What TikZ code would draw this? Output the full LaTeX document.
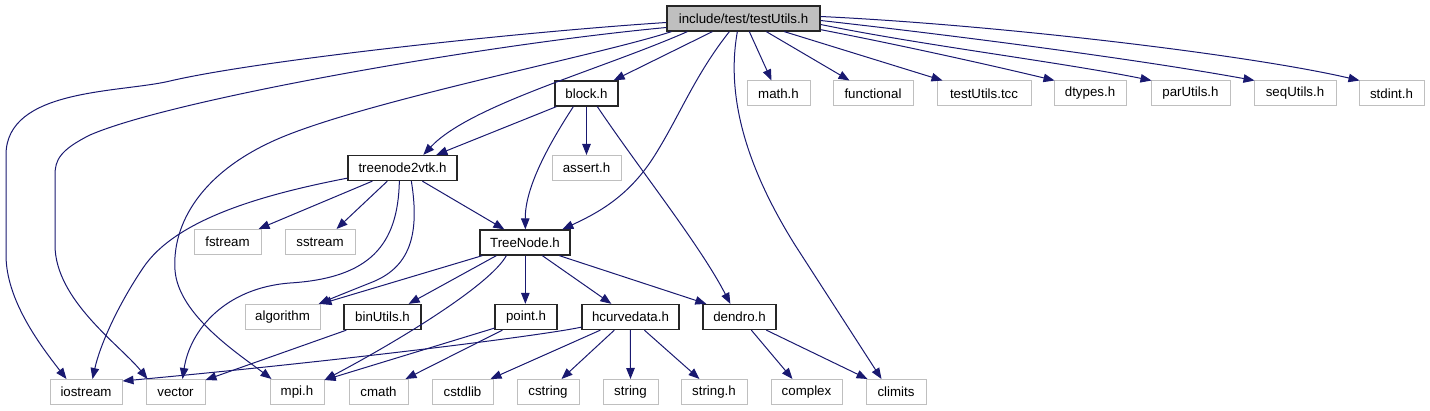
\documentclass[tikz,border=0pt]{standalone}
\usepackage{fontspec}
\setmainfont{Liberation Sans}
\usetikzlibrary{arrows.meta,calc}
\definecolor{edgeblue}{HTML}{191970}
\definecolor{sysgray}{HTML}{BFBFBF}
\definecolor{topfill}{HTML}{BFBFBF}
\tikzset{
  box/.style={rectangle, inner sep=0pt, minimum height=25pt, font=\fontsize{13.3}{16}\selectfont},
  sys/.style={box, draw=sysgray, line width=1pt},
  doc/.style={box, draw=black!85, line width=1.3pt},
  edge/.style={draw=edgeblue, line width=1pt, -{Triangle[length=11pt,width=8.5pt]}, fill=none},
}
\begin{document}
\begin{tikzpicture}[x=1pt,y=-1pt]
\useasboundingbox (0,0) rectangle (1430,411);
% top row
\node[doc, fill=topfill, minimum width=153pt] (top) at (743.5,18.5) {include/test/testUtils.h};
% row 2
\node[doc, minimum width=63pt] (block) at (586.5,93.5) {block.h};
\node[sys, minimum width=63pt] (math) at (778.5,93.5) {math.h};
\node[sys, minimum width=80pt] (functional) at (873,93.5) {functional};
\node[sys, minimum width=94pt] (tcc) at (984,93.5) {testUtils.tcc};
\node[sys, minimum width=72pt] (dtypes) at (1090,93.5) {dtypes.h};
\node[sys, minimum width=79pt] (parutils) at (1190.5,93.5) {parUtils.h};
\node[sys, minimum width=82pt] (sequtils) at (1295,93.5) {seqUtils.h};
\node[sys, minimum width=65pt] (stdint) at (1391.5,93.5) {stdint.h};
% row 3
\node[doc, minimum width=109pt] (tv) at (402.5,168) {treenode2vtk.h};
\node[sys, minimum width=69pt] (assert) at (586.5,168) {assert.h};
% row 4
\node[sys, minimum width=67pt] (fstream) at (227.5,242) {fstream};
\node[sys, minimum width=70pt] (sstream) at (320,242) {sstream};
\node[doc, minimum width=90pt] (treenode) at (525,242.5) {TreeNode.h};
% row 5
\node[sys, minimum width=75pt] (algorithm) at (282.5,317) {algorithm};
\node[doc, minimum width=77pt] (binutils) at (382.5,317) {binUtils.h};
\node[doc, minimum width=62pt] (point) at (526,317) {point.h};
\node[doc, minimum width=97pt] (hcurve) at (630.5,317) {hcurvedata.h};
\node[doc, minimum width=73pt] (dendro) at (739.5,317) {dendro.h};
% row 6
\node[sys, minimum width=72pt] (iostream) at (86,392) {iostream};
\node[sys, minimum width=59pt] (vector) at (175.5,392) {vector};
\node[sys, minimum width=54pt] (mpi) at (297,392) {mpi.h};
\node[sys, minimum width=59pt] (cmath) at (378.5,392) {cmath};
\node[sys, minimum width=61pt] (cstdlib) at (462.5,392) {cstdlib};
\node[sys, minimum width=62pt] (cstring) at (548,392) {cstring};
\node[sys, minimum width=55pt] (string) at (630.5,392) {string};
\node[sys, minimum width=66pt] (stringh) at (714,392) {string.h};
\node[sys, minimum width=71pt] (complex) at (806.5,392) {complex};
\node[sys, minimum width=60pt] (climits) at (896,392) {climits};

% edges from testUtils.h
\draw[edge] ($(top.west)+(0,4)$) .. controls (520,32) and (260,60) .. (170,81)
   .. controls (120,93) and (6,88) .. (6,155) -- (6,255)
   .. controls (6,300) and (40,345) .. ($(iostream.north west)+(17,0)$);
\draw[edge] ($(top.west)+(0,9)$) .. controls (480,45) and (170,100) .. (90,135)
   .. controls (60,150) and (55,160) .. (55,175) -- (55,245)
   .. controls (55,300) and (120,345) .. ($(vector.north west)+(2,0)$);
\draw[edge] ($(top.south west)+(5,0)$) .. controls (600,55) and (370,100) .. (280,138)
   .. controls (200,172) and (172,225) .. (175,270)
   .. controls (178,315) and (240,355) .. ($(mpi.north west)+(2,0)$);
\draw[edge] ($(top.south west)+(21,0)$) .. controls (600,70) and (470,105) .. ($(tv.north west)+(76,0)$);
\draw[edge] ($(top.south west)+(46,0)$) -- ($(block.north east)+(-5,0)$);
\draw[edge] ($(top.south west)+(63,0)$) .. controls (695,75) and (680,115) .. (655,155)
   .. controls (630,195) and (600,212) .. ($(treenode.north west)+(83,0)$);
\draw[edge] ($(top.south west)+(71,0)$) .. controls (726,95) and (745,165) .. (795,245)
   -- ($(climits.north west)+(16,0)$);
\draw[edge] ($(top.south west)+(83,0)$) -- ($(math.north west)+(25,0)$);
\draw[edge] ($(top.south west)+(100,0)$) -- ($(functional.north west)+(17,0)$);
\draw[edge] ($(top.south west)+(118,0)$) -- ($(tcc.north west)+(6,0)$);
\draw[edge] ($(top.south east)+(0,-2)$) .. controls (900,45) and (990,65) .. ($(dtypes.north west)+(1,0)$);
\draw[edge] ($(top.east)+(0,6)$) .. controls (920,45) and (1060,62) .. ($(parutils.north west)+(1,0)$);
\draw[edge] ($(top.east)+(0,2)$) .. controls (950,35) and (1130,58) .. ($(sequtils.north west)+(1,0)$);
\draw[edge] ($(top.east)+(0,-2)$) .. controls (1000,25) and (1250,55) .. ($(stdint.north west)+(1,0)$);

% edges from block.h
\draw[edge] ($(block.south west)+(2,0)$) -- ($(tv.north west)+(89,0)$);
\draw[edge] (block.south) -- (assert.north);
\draw[edge] ($(block.south west)+(19,0)$) .. controls (545,150) and (525,190) .. ($(treenode.north west)+(46,0)$);
\draw[edge] ($(block.south west)+(43,0)$) .. controls (640,170) and (700,245) .. ($(dendro.north west)+(28,0)$);

% edges from treenode2vtk.h
\draw[edge] ($(tv.south west)+(25,0)$) -- ($(fstream.north east)+(-3,0)$);
\draw[edge] ($(tv.south west)+(40,0)$) -- ($(sstream.north west)+(52,0)$);
\draw[edge] ($(tv.south west)+(0,-3)$) .. controls (260,195) and (175,220) .. (143,268)
   .. controls (118,305) and (100,345) .. ($(iostream.north west)+(43,0)$);
\draw[edge] ($(tv.south west)+(52,0)$) .. controls (398,245) and (370,278) .. (290,283)
   .. controls (225,288) and (190,330) .. ($(vector.north west)+(37,0)$);
\draw[edge] ($(tv.south west)+(64,0)$) .. controls (420,235) and (410,268) .. (370,283)
   .. controls (350,291) and (335,297) .. ($(algorithm.north east)+(-2,0)$);
\draw[edge] ($(tv.south west)+(75,0)$) -- ($(treenode.north west)+(25,0)$);

% edges from TreeNode.h
\draw[edge] ($(treenode.south west)+(3,0)$) -- ($(algorithm.north east)+(0,0)$);
\draw[edge] ($(treenode.south west)+(17,0)$) -- ($(binutils.north east)+(-13,0)$);
\draw[edge] ($(treenode.south west)+(27,0)$) .. controls (490,285) and (400,340) .. ($(mpi.north east)+(0,1)$);
\draw[edge] ($(treenode.south west)+(46,0)$) -- ($(point.north west)+(31,0)$);
\draw[edge] ($(treenode.south west)+(63,0)$) -- ($(hcurve.north west)+(30,0)$);
\draw[edge] ($(treenode.south west)+(80,0)$) -- ($(dendro.north west)+(4,0)$);

% lower edges
\draw[edge] ($(binutils.south west)+(3,0)$) -- ($(vector.north east)+(0,1)$);
\draw[edge] ($(point.south west)+(0,-2)$) -- ($(mpi.north east)+(0,1)$);
\draw[edge] ($(point.south west)+(8,0)$) -- ($(cmath.north east)+(-3,0)$);
\draw[edge] ($(hcurve.south west)+(0,-3)$) .. controls (540,336) and (330,362) .. ($(iostream.north east)+(0,2)$);
\draw[edge] ($(hcurve.south west)+(19,0)$) -- ($(cstdlib.north east)+(-3,0)$);
\draw[edge] ($(hcurve.south west)+(33,0)$) -- ($(cstring.north west)+(45,0)$);
\draw[edge] ($(hcurve.south west)+(49,0)$) -- ($(string.north west)+(28,0)$);
\draw[edge] ($(hcurve.south west)+(63,0)$) -- ($(stringh.north west)+(19,0)$);
\draw[edge] ($(dendro.south west)+(49,0)$) -- ($(complex.north west)+(22,0)$);
\draw[edge] ($(dendro.south west)+(64,0)$) -- ($(climits.north west)+(2,0)$);
\end{tikzpicture}
\end{document}
